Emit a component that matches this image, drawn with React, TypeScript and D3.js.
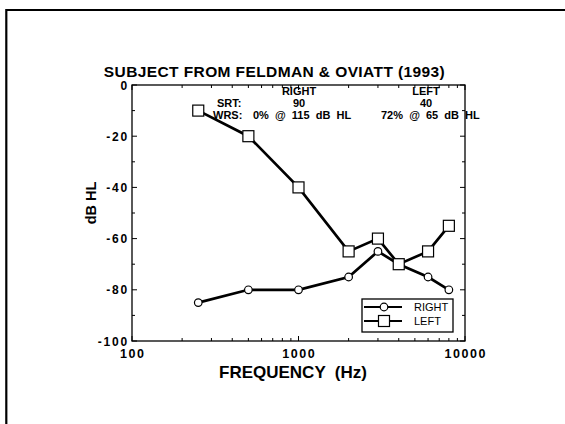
import React from "react";
import * as d3 from "d3";

const frequencies = [250, 500, 1000, 2000, 3000, 4000, 6000, 8000];
const rightEar = [-85, -80, -80, -75, -65, -70, -75, -80];
const leftEar = [-10, -20, -40, -65, -60, -70, -65, -55];
const yTicks = [0, -20, -40, -60, -80, -100];
const xTicks = [100, 1000, 10000];

const W = 565;
const H = 424;
const M = { left: 132, right: 465, top: 85, bottom: 341 };
const FONT = "'Liberation Sans', Arial, Helvetica, sans-serif";

export default function App() {
  const x = d3.scaleLog().domain([100, 10000]).range([M.left, M.right]);
  const y = d3.scaleLinear().domain([-100, 0]).range([M.bottom, M.top]);

  const line = d3
    .line<[number, number]>()
    .x((d) => x(d[0]))
    .y((d) => y(d[1]));

  const rightPts: [number, number][] = frequencies.map((f, i) => [f, rightEar[i]]);
  const leftPts: [number, number][] = frequencies.map((f, i) => [f, leftEar[i]]);

  const minorX: number[] = [];
  for (const dec of [100, 1000]) for (let k = 2; k <= 9; k++) minorX.push(dec * k);
  const minorY = d3.range(-90, 0, 20);

  const sq = 11;
  const cr = 3.8;
  const xls = 1.5;

  return (
    <svg
      width={W}
      height={H}
      style={{ position: "absolute", left: 0, top: 0, background: "#fff" }}
      fontFamily={FONT}
    >
      {/* outer frame */}
      <line x1={6.3} x2={W + 5} y1={10} y2={10} stroke="#000" strokeWidth={2.2} />
      <line x1={6.3} x2={6.3} y1={9} y2={H + 5} stroke="#000" strokeWidth={2.2} />

      {/* title */}
      <text x={274.5} y={76.5} textAnchor="middle" fontSize={15.5} fontWeight="bold" letterSpacing={0.4}>
        SUBJECT FROM FELDMAN &amp; OVIATT (1993)
      </text>

      {/* plot frame */}
      <rect
        x={M.left}
        y={M.top}
        width={M.right - M.left}
        height={M.bottom - M.top}
        fill="none"
        stroke="#000"
        strokeWidth={1.3}
      />

      {/* y ticks */}
      {yTicks.map((v) => (
        <g key={"yt" + v}>
          <line x1={M.left} x2={M.left + 5} y1={y(v)} y2={y(v)} stroke="#000" strokeWidth={1} />
          <line x1={M.right} x2={M.right - 5} y1={y(v)} y2={y(v)} stroke="#000" strokeWidth={1} />
          <text
            x={129}
            y={y(v) + 4.5}
            textAnchor="end"
            fontSize={12}
            fontWeight="bold"
            letterSpacing={1.8}
          >
            {v}
          </text>
        </g>
      ))}
      {minorY.map((v) => (
        <g key={"ym" + v}>
          <line x1={M.left} x2={M.left + 3} y1={y(v)} y2={y(v)} stroke="#000" strokeWidth={1} />
          <line x1={M.right} x2={M.right - 3} y1={y(v)} y2={y(v)} stroke="#000" strokeWidth={1} />
        </g>
      ))}

      {/* x ticks */}
      {xTicks.map((v) => (
        <g key={"xt" + v}>
          <line x1={x(v)} x2={x(v)} y1={M.bottom} y2={M.bottom - 5} stroke="#000" strokeWidth={1} />
          <line x1={x(v)} x2={x(v)} y1={M.top} y2={M.top + 5} stroke="#000" strokeWidth={1} />
          <text
            x={x(v) + xls / 2}
            y={358}
            textAnchor="middle"
            fontSize={12.5}
            fontWeight="bold"
            letterSpacing={xls}
          >
            {v}
          </text>
        </g>
      ))}
      {minorX.map((v) => (
        <g key={"xm" + v}>
          <line x1={x(v)} x2={x(v)} y1={M.bottom} y2={M.bottom - 3} stroke="#000" strokeWidth={1} />
          <line x1={x(v)} x2={x(v)} y1={M.top} y2={M.top + 3} stroke="#000" strokeWidth={1} />
        </g>
      ))}

      {/* axis titles */}
      <text
        x={293}
        y={378}
        textAnchor="middle"
        fontSize={17}
        fontWeight="bold"
        style={{ whiteSpace: "pre" }}
      >
        {"FREQUENCY  (Hz)"}
      </text>
      <text
        transform={`translate(96,203) rotate(-90)`}
        textAnchor="middle"
        fontSize={14.5}
        fontWeight="bold"
      >
        dB HL
      </text>

      {/* annotations */}
      <g fontSize={11} fontWeight="bold">
        <text x={299} y={95} textAnchor="middle">RIGHT</text>
        <text x={426} y={95} textAnchor="middle">LEFT</text>
        <text x={217} y={107}>SRT:</text>
        <text x={299} y={107} textAnchor="middle">90</text>
        <text x={426} y={107} textAnchor="middle">40</text>
        <text x={213} y={119}>WRS:</text>
        <text x={253} y={119} style={{ whiteSpace: "pre" }}>{"0%  @  115  dB  HL"}</text>
        <text x={381} y={119} style={{ whiteSpace: "pre" }}>{"72%  @  65  dB  HL"}</text>
      </g>

      {/* data lines */}
      <path d={line(rightPts) || ""} fill="none" stroke="#000" strokeWidth={2.7} />
      <path d={line(leftPts) || ""} fill="none" stroke="#000" strokeWidth={2.7} />

      {/* markers */}
      {rightPts.map((p, i) => (
        <circle key={"c" + i} cx={x(p[0])} cy={y(p[1])} r={cr} fill="#fff" stroke="#000" strokeWidth={1.2} />
      ))}
      {leftPts.map((p, i) => (
        <rect
          key={"s" + i}
          x={x(p[0]) - sq / 2}
          y={y(p[1]) - sq / 2}
          width={sq}
          height={sq}
          fill="#fff"
          stroke="#000"
          strokeWidth={1.2}
        />
      ))}

      {/* legend */}
      <g>
        <rect x={362} y={299} width={91} height={33} fill="#fff" stroke="#000" strokeWidth={1.3} />
        <line x1={364} x2={402} y1={307} y2={307} stroke="#000" strokeWidth={2.2} />
        <circle cx={384} cy={307} r={cr} fill="#fff" stroke="#000" strokeWidth={1.2} />
        <text x={414} y={311} fontSize={11}>RIGHT</text>
        <line x1={364} x2={402} y1={321} y2={321} stroke="#000" strokeWidth={2.2} />
        <rect x={384 - sq / 2} y={321 - sq / 2} width={sq} height={sq} fill="#fff" stroke="#000" strokeWidth={1.2} />
        <text x={414} y={325} fontSize={11}>LEFT</text>
      </g>
    </svg>
  );
}
